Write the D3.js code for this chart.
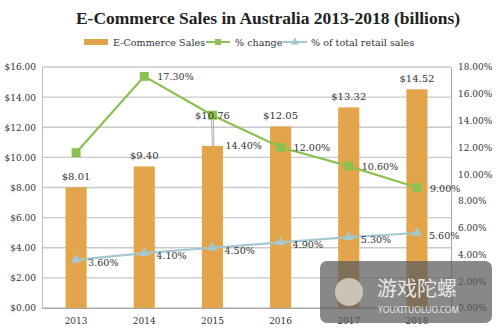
<!DOCTYPE html>
<html><head><meta charset="utf-8">
<script src="https://cdn.jsdelivr.net/npm/d3@7/dist/d3.min.js"></script>
<style>body{margin:0;background:#fff}svg{display:block}</style>
</head><body>
<svg id="c" width="504" height="333"></svg>
<script>
const years = ["2013","2014","2015","2016","2017","2018"];
const sales = [8.01, 9.40, 10.76, 12.05, 13.32, 14.52];
const pctChange = [11.6, 17.3, 14.4, 12.0, 10.6, 9.0];
const pctChangeLabels = [null, "17.30%", "14.40%", "12.00%", "10.60%", "9.00%"];
const pctRetail = [3.6, 4.1, 4.5, 4.9, 5.3, 5.6];
const pctRetailLabels = ["3.60%", "4.10%", "4.50%", "4.90%", "5.30%", "5.60%"];
const leftTicks = [0,2,4,6,8,10,12,14,16];
const rightTicks = [0,2,4,6,8,10,12,14,16,18];

const svg = d3.select("#c");
const font = "'DejaVu Serif', 'Liberation Serif', serif";
const L = 42, R = 451, T = 67, B = 308;
const x = d3.scaleBand().domain(years).range([L, R]).paddingInner(0.69).paddingOuter(0.345);
const yL = d3.scaleLinear().domain([0,16]).range([B, T]);
const yR = d3.scaleLinear().domain([0,18]).range([B, T]);
const cx = d => x(d) + x.bandwidth()/2;

const orange = "#E2A54B", green = "#8CC152", blue = "#A3C8CF";

// title
svg.append("text").attr("x", 268).attr("y", 24).attr("text-anchor","middle")
  .attr("font-family", "'Liberation Serif', serif").attr("font-weight","bold").attr("font-size", 17.5)
  .attr("fill","#222").text("E-Commerce Sales in Australia 2013-2018 (billions)");

// legend
const lg = svg.append("g").attr("font-family", font).attr("font-size", 9.6).attr("fill","#333");
lg.append("rect").attr("x",84).attr("y",39).attr("width",24).attr("height",6).attr("fill",orange);
lg.append("text").attr("x",113).attr("y",45.5).text("E-Commerce Sales");
lg.append("line").attr("x1",206).attr("x2",230).attr("y1",42).attr("y2",42).attr("stroke",green).attr("stroke-width",2);
lg.append("rect").attr("x",215).attr("y",39).attr("width",6).attr("height",6).attr("fill",green);
lg.append("text").attr("x",235).attr("y",45.5).text("% change");
lg.append("line").attr("x1",283).attr("x2",307).attr("y1",42).attr("y2",42).attr("stroke",blue).attr("stroke-width",2);
lg.append("path").attr("d", d3.symbol(d3.symbolTriangle, 30)()).attr("transform","translate(295,42)").attr("fill",blue);
lg.append("text").attr("x",311).attr("y",45.5).text("% of total retail sales");

// gridlines
svg.append("g").selectAll("line").data(leftTicks).join("line")
  .attr("x1", L).attr("x2", R).attr("y1", d=>yL(d)).attr("y2", d=>yL(d))
  .attr("stroke","#c9c9c9").attr("stroke-width",1.4);

// axes
const axL = svg.append("g").attr("transform",`translate(${L},0)`)
  .call(d3.axisLeft(yL).tickValues(leftTicks).tickSize(0).tickPadding(6).tickFormat(d=>"$"+d.toFixed(2)));
const axR = svg.append("g").attr("transform",`translate(${R},0)`)
  .call(d3.axisRight(yR).tickValues(rightTicks).tickSize(0).tickPadding(7).tickFormat(d=>d.toFixed(2)+"%"));
const axB = svg.append("g").attr("transform",`translate(0,${B})`)
  .call(d3.axisBottom(x).tickSize(0).tickPadding(10));
[axL, axR, axB].forEach(a => {
  a.selectAll("text").attr("font-family", font).attr("font-size", 9).attr("fill","#333");
  a.select(".domain").attr("stroke","#aaa").attr("stroke-width",1);
});
axL.select(".domain").attr("stroke","#bbb");

// bars
svg.append("g").selectAll("rect").data(years).join("rect")
  .attr("x", d=>x(d)).attr("width", x.bandwidth())
  .attr("y", (d,i)=>yL(sales[i])).attr("height", (d,i)=>B - yL(sales[i]))
  .attr("fill", orange);

// retail line
svg.append("path").datum(years).attr("fill","none").attr("stroke",blue).attr("stroke-width",2.2)
  .attr("d", d3.line().x(d=>cx(d)).y((d,i)=>yR(pctRetail[i])));
svg.append("g").selectAll("path").data(years).join("path")
  .attr("d", d3.symbol(d3.symbolTriangle, 45)())
  .attr("transform",(d,i)=>`translate(${cx(d)},${yR(pctRetail[i])})`).attr("fill",blue);
svg.append("g").selectAll("text").data(years).join("text")
  .attr("x", d=>cx(d)+12).attr("y",(d,i)=>yR(pctRetail[i])+6)
  .attr("font-family", font).attr("font-size", 9.6).attr("fill","#333")
  .text((d,i)=>pctRetailLabels[i]);

// leader lines for 2015 label
const lx = cx("2015"), ly = yR(pctChange[2]);
svg.append("line").attr("x1",lx-1).attr("y1",ly).attr("x2",lx).attr("y2",yL(sales[2])).attr("stroke","#999").attr("stroke-width",0.8);
svg.append("line").attr("x1",lx+1).attr("y1",ly).attr("x2",lx+1.5).attr("y2",yL(sales[2])).attr("stroke","#999").attr("stroke-width",0.8);

// change line
svg.append("path").datum(years).attr("fill","none").attr("stroke",green).attr("stroke-width",2.2)
  .attr("d", d3.line().x(d=>cx(d)).y((d,i)=>yR(pctChange[i])));
svg.append("g").selectAll("rect").data(years).join("rect")
  .attr("x", d=>cx(d)-4.5).attr("y",(d,i)=>yR(pctChange[i])-4.5).attr("width",9).attr("height",9).attr("fill",green);
svg.append("g").selectAll("text").data(years).join("text")
  .attr("x", d=> cx(d)+13)
  .attr("y",(d,i)=> i===2 ? yL(sales[2])+3 : yR(pctChange[i])+4)
  .attr("font-family", font).attr("font-size", 9.6).attr("fill","#333")
  .text((d,i)=>pctChangeLabels[i] || "");

// bar labels (drawn on top)
svg.append("g").selectAll("text").data(years).join("text")
  .attr("x", d=>cx(d)).attr("y", (d,i)=> i===2 ? yR(pctChange[2]) + 4 : yL(sales[i]) - 7)
  .attr("text-anchor","middle").attr("font-family", font).attr("font-size", 10).attr("fill","#333")
  .text((d,i)=>"$"+sales[i].toFixed(2));

// watermark
const wm = svg.append("g");
wm.append("rect").attr("x",320).attr("y",261).attr("width",172).attr("height",62).attr("rx",7)
  .attr("fill","#5a5a5a").attr("opacity",0.72);
wm.append("circle").attr("cx",349).attr("cy",292).attr("r",14).attr("fill","#d8d0c4").attr("opacity",0.85);
wm.append("text").attr("x",377).attr("y",296).attr("font-family","'Noto Sans CJK SC', sans-serif")
  .attr("font-size",20).attr("fill","#e6e6e6").text("游戏陀螺");
wm.append("text").attr("x",378).attr("y",313).attr("font-family","'Noto Sans', sans-serif")
  .attr("font-size",8.5).attr("fill","#e6e6e6").text("YOUXITUOLUO.COM");
</script>
</body></html>
